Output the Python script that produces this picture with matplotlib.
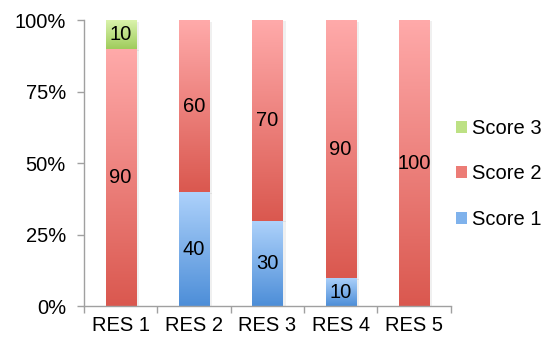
import numpy as np
import matplotlib
matplotlib.use("Agg")
import matplotlib.pyplot as plt
from matplotlib.colors import LinearSegmentedColormap
from matplotlib.patches import Patch

plt.rcParams['font.family'] = ['Liberation Sans', 'DejaVu Sans']

categories = ["RES 1", "RES 2", "RES 3", "RES 4", "RES 5"]
score1 = [0, 40, 30, 10, 0]
score2 = [90, 60, 70, 90, 100]
score3 = [10, 0, 0, 0, 0]
series_names = ["Score 1", "Score 2", "Score 3"]
y_ticks = [0, 25, 50, 75, 100]
y_tick_labels = ["0%", "25%", "50%", "75%", "100%"]

FS = 14.5

# (top colour, bottom colour) of each series' vertical gradient
grad = {
    "Score 1": ("#AED2FB", "#4D8ED8"),
    "Score 2": ("#FFAAAA", "#DA584F"),
    "Score 3": ("#DAF3AC", "#9FCC5C"),
}
legend_col = {"Score 1": "#7FB2EC", "Score 2": "#EC7C76", "Score 3": "#BDE184"}

fig = plt.figure(figsize=(5.43, 3.45), dpi=100)
ax = fig.add_axes([0.1547, 0.1116, 0.8300 - 0.1547, 0.9406 - 0.1116])

x = np.arange(len(categories))
width = 0.41
bottom = np.zeros(len(categories))
grad_img = np.linspace(1, 0, 256).reshape(-1, 1)

for name, vals in zip(series_names, [score1, score2, score3]):
    vals = np.array(vals, dtype=float)
    bars = ax.bar(x, vals, width, bottom=bottom, color="none", edgecolor="none", zorder=2)
    cmap = LinearSegmentedColormap.from_list(name, [grad[name][1], grad[name][0]])
    for rect, v, b in zip(bars, vals, bottom):
        if v <= 0:
            continue
        x0 = rect.get_x()
        w = rect.get_width()
        # soft shadow to the right of each segment
        ax.imshow(np.ones((2, 2)), cmap=LinearSegmentedColormap.from_list("s", ["#000000", "#000000"]),
                  alpha=0.06, extent=(x0 + 0.03, x0 + w + 0.03, b - 0.6, b + v - 0.6),
                  aspect="auto", zorder=1)
        ax.imshow(grad_img, cmap=cmap, vmin=0, vmax=1, extent=(x0, x0 + w, b, b + v),
                  aspect="auto", zorder=2, interpolation="bilinear")
        ax.text(x0 + w / 2, b + v / 2, f"{int(v)}", ha="center", va="center",
                fontsize=FS, color="black", zorder=3)
    bottom = bottom + vals

ax.set_xlim(-0.5, len(categories) - 0.5)
ax.set_ylim(0, 100)
ax.set_yticks(y_ticks)
ax.set_yticklabels(y_tick_labels, fontsize=FS)
ax.set_xticks(x)
ax.set_xticklabels(categories, fontsize=FS)
ax.set_xticks(np.arange(-0.5, len(categories), 1.0), minor=True)
ax.tick_params(axis="x", which="major", length=0, pad=7)
ax.tick_params(axis="x", which="minor", length=5, color="#A0A0A0", width=1)
ax.tick_params(axis="y", length=5, color="#A0A0A0", width=1, pad=8)

for side in ["top", "right"]:
    ax.spines[side].set_visible(False)
for side in ["left", "bottom"]:
    ax.spines[side].set_color("#A0A0A0")
    ax.spines[side].set_linewidth(1)

handles = [Patch(facecolor=legend_col[n], edgecolor="none") for n in reversed(series_names)]
fig.legend(handles, list(reversed(series_names)), loc="center left",
           bbox_to_anchor=(0.840, 0.496), frameon=False, fontsize=FS,
           borderpad=0, borderaxespad=0,
           handlelength=0.55, handleheight=0.55, handletextpad=0.22, labelspacing=1.32)

fig.savefig("out.png", dpi=100)
